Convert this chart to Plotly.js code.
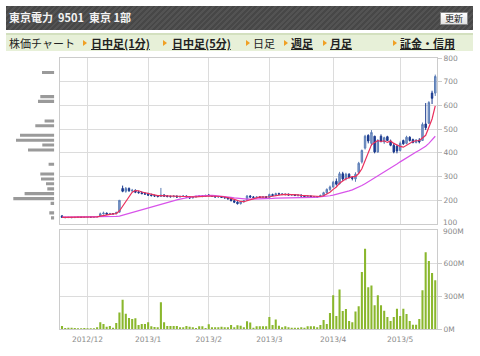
<!DOCTYPE html>
<html><head><meta charset="utf-8">
<script src="https://cdn.plot.ly/plotly-3.0.1.min.js"></script>
<style>
html,body{margin:0;padding:0;background:#fff;}
#wrap{position:relative;width:480px;height:356px;overflow:hidden;}
#chart{position:absolute;left:0;top:0;width:480px;height:356px;}
#hdr{position:absolute;left:6px;top:6px;width:467px;height:24px;
 background:repeating-linear-gradient(135deg,#474747 0px,#474747 2px,#535353 2px,#535353 4px);
 font-family:"Noto Sans CJK JP",sans-serif;color:#f2f2f2;font-size:11px;font-weight:bold;line-height:22px;z-index:2;}
#hdr .t{position:absolute;left:3px;top:0;white-space:pre;}
#btn{position:absolute;left:434px;top:6px;width:26px;height:11px;background:linear-gradient(#fff,#e2e2e2);
 border:1px solid #8a8a8a;color:#222;font-size:9px;font-weight:normal;line-height:11px;text-align:center;}
#nav{position:absolute;left:6px;top:33px;width:467px;height:16px;background:#e7f0d8;border-top:2px solid #d3e0bf;
 font-family:"Noto Sans CJK JP",sans-serif;font-size:11px;color:#222;z-index:2;}
#nav span{position:absolute;top:0;line-height:16px;white-space:nowrap;}
#nav .lnk{font-weight:bold;text-decoration:underline;}
#nav .ar{width:0;height:0;border-left:4px solid #f0a024;border-top:3px solid transparent;border-bottom:3px solid transparent;top:5px;}
</style></head>
<body><div id="wrap">
<div id="chart"></div>
<div id="hdr"><span class="t">東京電力  9501  東京 1部</span><div id="btn">更新</div></div>
<div id="nav">
 <span style="left:3px">株価チャート</span>
 <span class="ar" style="left:77px"></span><span class="lnk" style="left:85px">日中足(1分)</span>
 <span class="ar" style="left:157px"></span><span class="lnk" style="left:166px">日中足(5分)</span>
 <span class="ar" style="left:240px"></span><span style="left:247px">日足</span>
 <span class="ar" style="left:278px"></span><span class="lnk" style="left:285px">週足</span>
 <span class="ar" style="left:317px"></span><span class="lnk" style="left:324px">月足</span>
 <span class="ar" style="left:387px"></span><span class="lnk" style="left:394px">証金・信用</span>
</div>
</div>
<script>
// trading days
const nov2012 = [20,21,22,26,27,28,29,30];
const dec2012 = [3,4,5,6,7,10,11,12,13,14,17,18,19,20,21,25,26,27,28];
const jan2013 = [4,7,8,9,10,11,15,16,17,18,21,22,23,24,25,28,29,30,31];
const feb2013 = [1,4,5,6,7,8,12,13,14,15,18,19,20,21,22,25,26,27,28];
const mar2013 = [1,4,5,6,7,8,11,12,13,14,15,18,19,21,22,25,26,27,28,29];
const apr2013 = [1,2,3,4,5,8,9,10,11,12,15,16,17,18,19,22,23,24,25,26,30];
const may2013 = [1,2,7,8,9,10,13,14,15,16,17,20];

const monthTickVals = ['2012/12/03','2013/01/04','2013/02/01','2013/03/01','2013/04/01','2013/05/01'];
const monthTickText = ['2012/12','2013/1','2013/2','2013/3','2013/4','2013/5'];
const priceTicks = [100,200,300,400,500,600,700,800];
const volTicks = [0,300,600,900];
const volTickText = ['0M','300M','600M','900M'];

const openP = [134,128,127,128,127,128,129,128,
 129,130,129,130,133,143,146,141,144,143,150,250,238,250,240,242,234,232,228,
 226,222,220,218,216,222,218,216,215,218,214,216,218,214,210,214,216,218,216,
 222,220,216,214,216,212,210,206,198,192,186,194,200,218,214,212,214,212,215,
 212,224,220,228,226,224,226,222,224,220,222,218,216,218,214,212,216,220,232,246,
 256,280,270,312,290,310,296,290,318,362,420,474,440,470,404,470,446,468,450,432,428,
 410,452,440,466,456,444,454,452,522,525,652,652];
const highP = [138,130,130,129,130,131,130,131,
 132,131,132,134,148,152,148,147,146,152,200,262,256,254,248,246,240,238,234,
 232,228,224,222,252,226,222,220,222,220,220,222,220,218,216,220,222,222,224,
 226,222,220,218,218,216,214,210,202,196,196,200,222,222,218,216,218,217,218,
 228,228,232,232,230,228,228,226,226,224,224,222,220,220,218,218,224,236,250,262,
 282,292,320,320,316,314,302,318,362,414,476,478,496,472,458,478,468,472,456,442,434,
 448,456,472,470,460,458,462,528,610,618,662,730];
const lowP = [126,125,126,125,126,127,126,127,
 128,127,128,129,132,140,139,140,140,142,148,234,232,236,234,230,228,226,224,
 218,216,214,212,214,214,212,212,213,210,212,214,211,206,208,212,214,213,214,
 216,214,212,210,210,208,204,196,188,182,182,190,198,210,210,208,210,208,210,
 210,218,218,222,222,220,220,218,218,216,216,213,212,212,210,210,214,216,228,240,
 254,262,266,282,284,292,284,278,312,355,414,440,430,398,400,444,438,450,428,398,398,
 406,434,436,448,440,440,440,450,496,522,606,640];
const closeP = [128,127,128,127,128,129,128,129,
 130,129,130,131,143,146,141,144,143,148,200,238,250,240,242,234,232,228,226,
 222,220,218,216,222,218,216,215,218,214,216,218,214,210,214,216,218,216,220,
 220,216,214,216,212,210,206,198,192,186,194,198,218,214,212,214,212,215,212,
 224,220,228,226,224,226,222,224,220,222,218,216,218,214,212,216,220,232,246,256,
 276,268,312,290,310,296,292,310,356,410,470,450,486,404,452,448,464,452,432,404,408,
 440,438,466,452,444,454,446,520,506,612,630,722];

// moving averages
const ma5 = [128,128,128,128,128,128,128,128,
 129,129,129,130,133,136,138,141,143,144,155,175,196,215,234,241,240,235,232,
 228,226,223,220,220,219,218,217,218,216,216,216,216,214,214,214,214,215,217,
 218,218,217,217,216,214,212,208,204,198,195,194,198,202,207,211,214,213,213,
 215,217,220,222,224,225,225,224,223,223,221,220,219,218,216,215,216,219,225,234,
 246,256,272,280,291,295,300,300,313,333,368,399,434,444,452,448,451,444,450,440,432,
 427,424,431,441,448,451,452,463,474,508,543,598];
const ma25 = [129,129,129,129,129,129,129,129,
 129,129,129,130,130,130,131,131,131,132,133,137,141,145,149,153,157,161,165,
 168,172,176,180,184,188,191,195,198,202,205,208,211,214,216,218,219,220,221,
 221,221,220,219,218,216,214,212,210,208,207,206,205,205,205,205,206,206,207,
 207,208,209,209,210,210,211,211,211,211,212,212,212,212,212,213,214,215,217,219,
 222,225,229,232,236,240,244,249,255,262,270,278,286,294,302,310,318,327,336,345,353,
 362,371,380,389,397,404,411,418,428,440,454,470];

// volume in millions of shares
const volumeM = [30,12,15,15,12,9,9,12,
 9,9,9,18,64,48,24,30,15,57,152,267,142,103,94,100,39,48,48,
 64,27,21,18,245,64,30,30,30,30,18,18,30,24,18,12,27,27,12,
 45,18,18,18,24,18,18,39,18,36,33,18,73,61,15,27,27,27,27,
 112,39,88,33,18,27,18,15,15,15,18,15,27,27,27,18,39,84,48,147,
 309,120,360,165,183,75,63,162,210,519,729,381,397,219,309,219,168,111,75,111,186,
 120,186,138,75,42,42,93,354,699,618,510,444];

// volume by price (left histogram)
const bandPrice = [126,147,187,207,228,248,270,290,311,352,412,433,453,474,514,534,617,637,739];
const bandVolume = [3.3,5,3.7,41,29.7,7,8.3,13.3,14,5.7,26.3,12,38.3,34.3,19,9.7,16.3,14,12.3];

const pad = n => (n<10?'0':'')+n;
const dates = [].concat(
  nov2012.map(d=>'2012/11/'+pad(d)), dec2012.map(d=>'2012/12/'+pad(d)),
  jan2013.map(d=>'2013/01/'+pad(d)), feb2013.map(d=>'2013/02/'+pad(d)),
  mar2013.map(d=>'2013/03/'+pad(d)), apr2013.map(d=>'2013/04/'+pad(d)),
  may2013.map(d=>'2013/05/'+pad(d)));

const W=480,H=356;
const grid='#dcdcdc', frame='#cccccc', lab='#8a8a8a';
const tf={family:'DejaVu Sans',size:7.5,color:lab};
const xr=[-0.63,117.55];
const xDom=[60/W,437/W];
const yPrice=[1-224/H,1-58/H];
const yVol=[1-329.3/H,1-230/H];

const traces=[
 {type:'candlestick',x:dates,open:openP,high:highP,low:lowP,close:closeP,xaxis:'x',yaxis:'y',
  increasing:{line:{color:'#5c7db6',width:1},fillcolor:'#86a1cd'},
  decreasing:{line:{color:'#1b3a8e',width:1},fillcolor:'#1b3a8e'},
  whiskerwidth:0,hoverinfo:'skip',showlegend:false},
 {type:'scatter',mode:'lines',x:dates,y:ma25,xaxis:'x',yaxis:'y',line:{color:'#d853ea',width:1.2},hoverinfo:'skip',showlegend:false},
 {type:'scatter',mode:'lines',x:dates,y:ma5,xaxis:'x',yaxis:'y',line:{color:'#ea2f5c',width:1.2},hoverinfo:'skip',showlegend:false},
 {type:'bar',x:dates,y:volumeM,xaxis:'x2',yaxis:'y2',marker:{color:'#8ab72d'},hoverinfo:'skip',showlegend:false},
 {type:'bar',orientation:'h',x:bandVolume,y:bandPrice,xaxis:'x3',yaxis:'y3',width:13,marker:{color:'#9a9a9a'},hoverinfo:'skip',showlegend:false}
];

// edge labels that would collide are drawn as annotations nudged apart
const pLast = priceTicks[0], vLast = volTicks[volTicks.length-1];
const layout={
 width:W,height:H,margin:{l:0,r:0,t:0,b:0},paper_bgcolor:'rgba(0,0,0,0)',plot_bgcolor:'#fff',
 font:{family:'DejaVu Sans',size:8,color:lab},showlegend:false,bargap:0.35,boxgap:0.35,
 xaxis:{domain:xDom,anchor:'y',type:'category',categoryorder:'array',categoryarray:dates,range:xr,
  tickvals:monthTickVals,showticklabels:false,ticks:'',showgrid:true,gridcolor:grid,gridwidth:1,
  showline:true,mirror:true,linecolor:frame,linewidth:1,zeroline:false,rangeslider:{visible:false},fixedrange:true},
 yaxis:{domain:yPrice,anchor:'x',side:'right',range:[100,800],tickvals:priceTicks.slice(1),
  tickfont:tf,ticks:'outside',ticklen:4,tickcolor:frame,showgrid:true,gridcolor:grid,gridwidth:1,
  showline:true,mirror:true,linecolor:frame,linewidth:1,zeroline:false,fixedrange:true},
 xaxis2:{domain:xDom,anchor:'y2',type:'category',categoryorder:'array',categoryarray:dates,range:xr,
  tickvals:monthTickVals,ticktext:monthTickText,tickfont:tf,ticks:'',ticklabelstandoff:3,showgrid:true,gridcolor:grid,gridwidth:1,
  showline:true,mirror:true,linecolor:frame,linewidth:1,zeroline:false,fixedrange:true},
 yaxis2:{domain:yVol,anchor:'x2',side:'right',range:[0,900],tickvals:volTicks.slice(0,-1),ticktext:volTickText.slice(0,-1),
  tickfont:tf,ticks:'outside',ticklen:4,tickcolor:frame,showgrid:true,gridcolor:grid,gridwidth:1,
  showline:true,mirror:true,linecolor:frame,linewidth:1,zeroline:false,fixedrange:true},
 xaxis3:{domain:[0,54.3/W],anchor:'y3',range:[54.3,0],visible:false,fixedrange:true},
 yaxis3:{domain:yPrice,anchor:'x3',range:[100,800],visible:false,fixedrange:true},
 annotations:[
  {xref:'x domain',yref:'y',x:1,y:pLast,text:String(pLast),showarrow:false,xanchor:'left',yanchor:'bottom',
   xshift:5,yshift:-4,font:tf,borderpad:0},
  {xref:'x2 domain',yref:'y2',x:1,y:vLast,text:volTickText[volTickText.length-1],showarrow:false,xanchor:'left',yanchor:'top',
   xshift:5,yshift:4,font:tf,borderpad:0}
 ]
};
Plotly.newPlot('chart',traces,layout,{staticPlot:true,displayModeBar:false});
</script>
</body></html>
